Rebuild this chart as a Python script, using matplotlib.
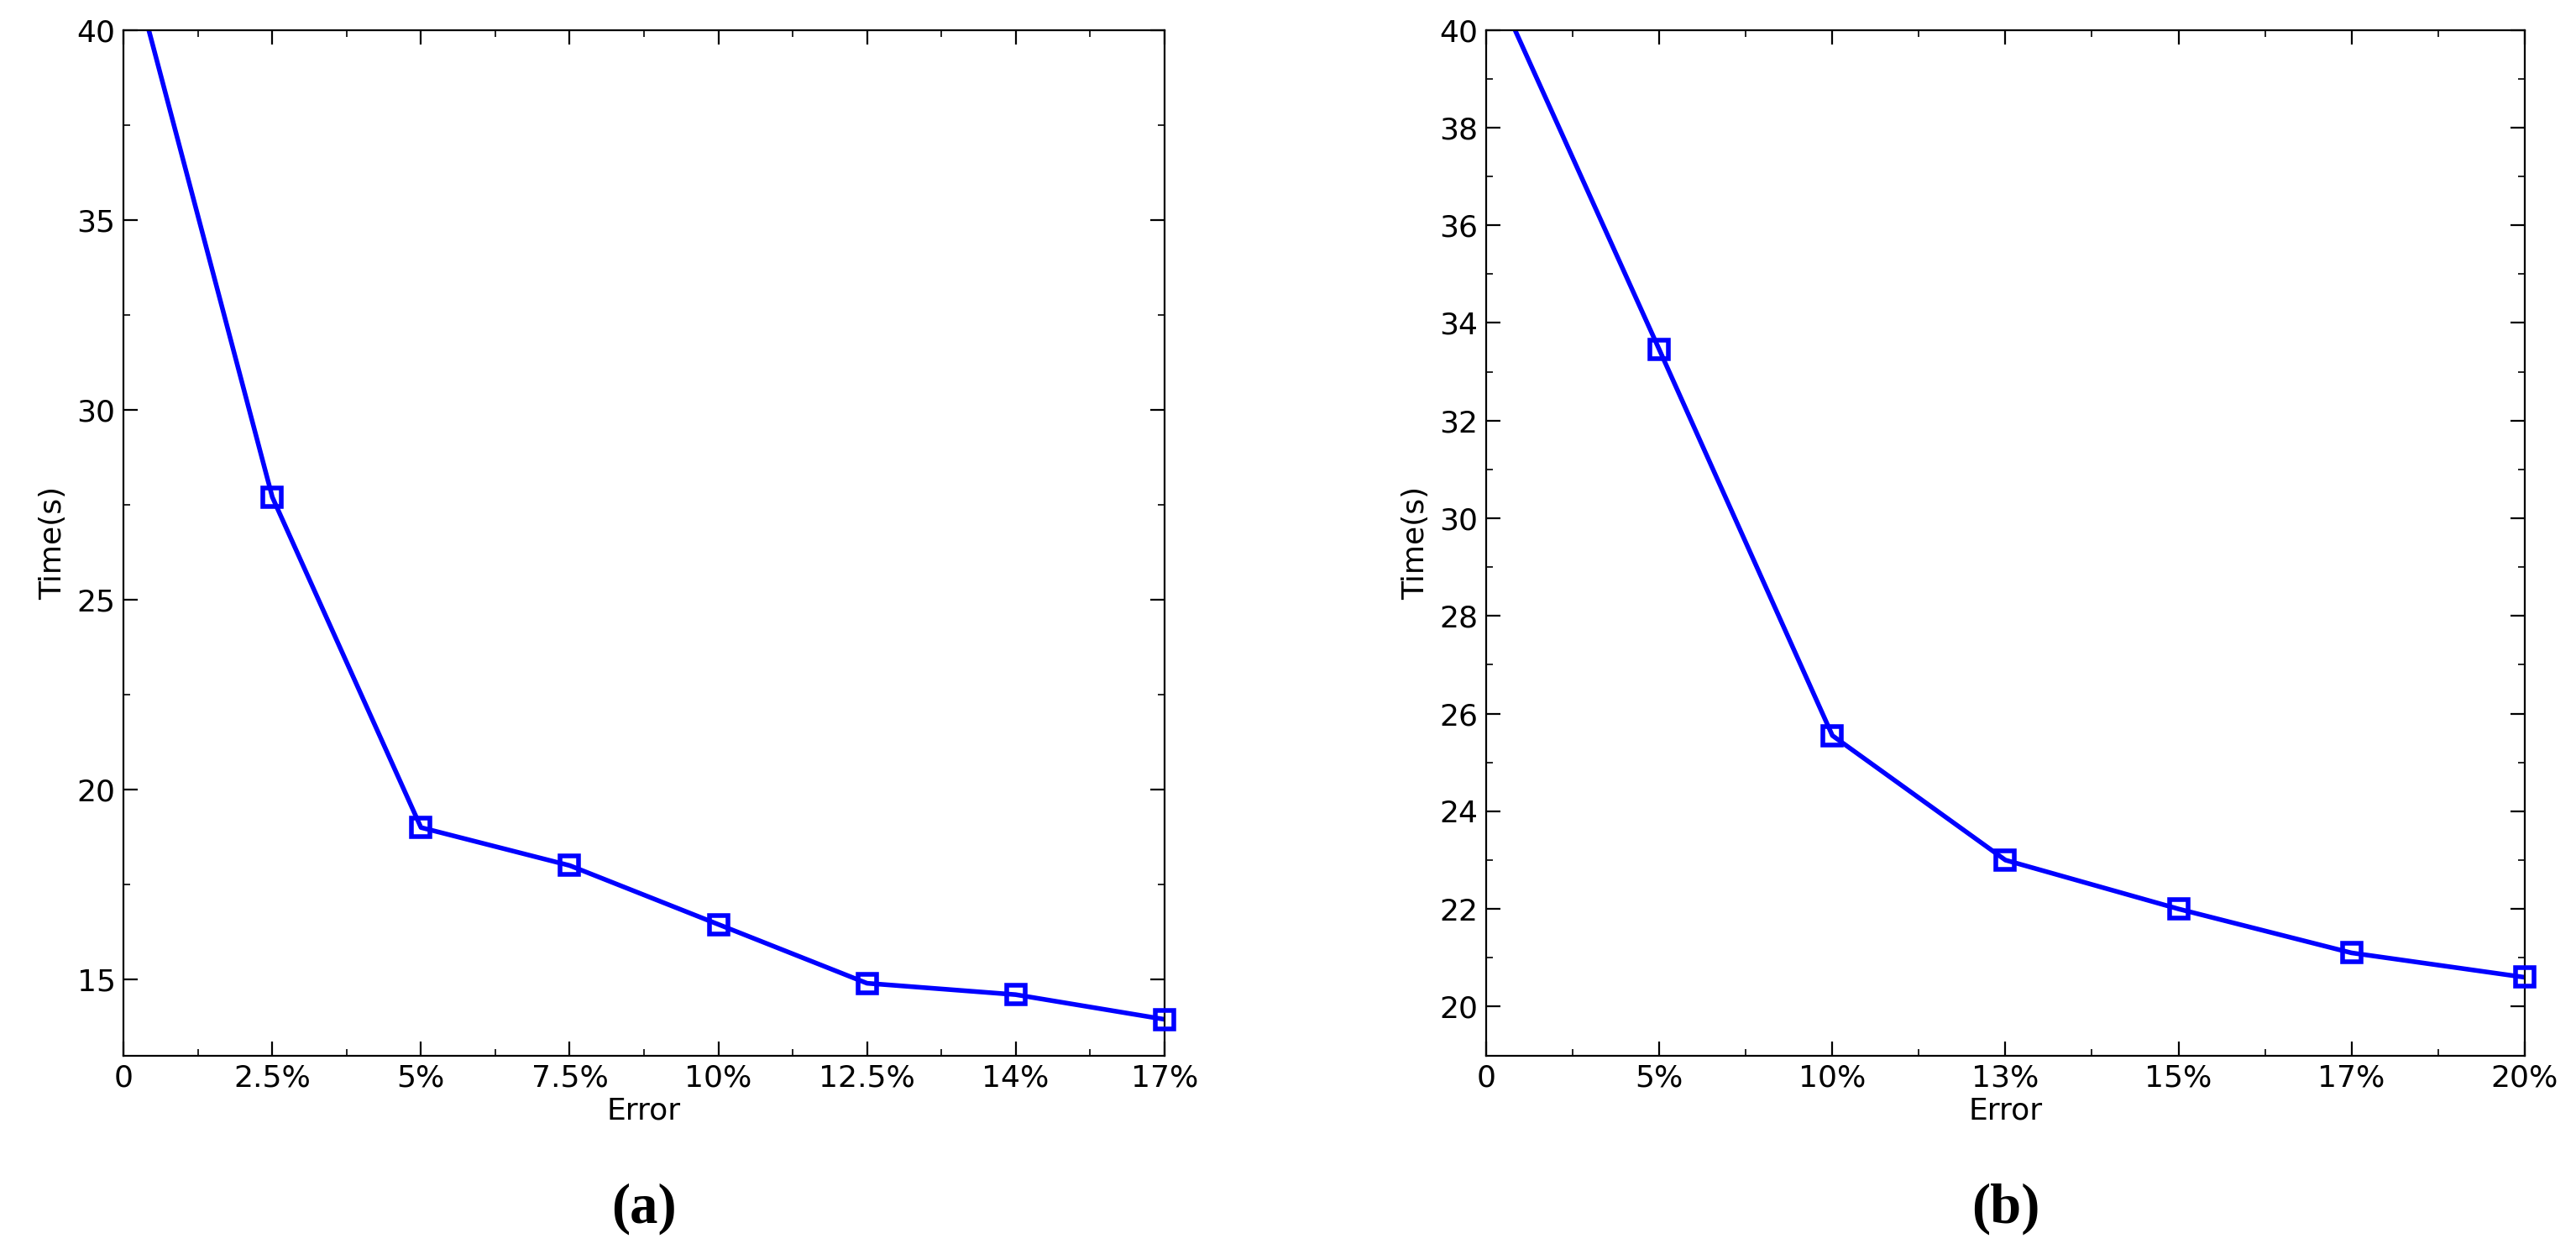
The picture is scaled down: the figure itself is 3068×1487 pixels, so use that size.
import matplotlib.pyplot as plt
from matplotlib.ticker import MultipleLocator

# panel (a)
labels_a = ['0', '2.5%', '5%', '7.5%', '10%', '12.5%', '14%', '17%']
time_a = [42.5, 27.7, 19.0, 18.0, 16.45, 14.9, 14.6, 13.95]

# panel (b)
labels_b = ['0', '5%', '10%', '13%', '15%', '17%', '20%']
time_b = [41.3, 33.45, 25.55, 23.0, 22.0, 21.1, 20.6]

fig = plt.figure(figsize=(15.34, 7.435), dpi=200)
ax1 = fig.add_axes([0.048, 0.155, 0.404, 0.821])
ax2 = fig.add_axes([0.577, 0.155, 0.403, 0.821])


def draw(ax, labels, vals, ylim, ystep, tag):
    xs = list(range(len(labels)))
    ax.plot(xs, vals, color='#0000ff', lw=2)
    # markers for the visible points, not clipped at the axes edge
    ax.plot(xs[1:], vals[1:], ls='none', marker='s', markersize=8,
            markerfacecolor='none', markeredgecolor='#0000ff',
            markeredgewidth=2, clip_on=False, zorder=5)
    ax.set_xlim(0, len(labels) - 1)
    ax.set_ylim(*ylim)
    ax.set_xticks(xs)
    ax.set_xticklabels(labels)
    ax.yaxis.set_major_locator(MultipleLocator(ystep))
    ax.yaxis.set_minor_locator(MultipleLocator(ystep / 2))
    ax.xaxis.set_minor_locator(MultipleLocator(0.5))
    ax.tick_params(which='both', direction='in', top=True, right=True, labelsize=13)
    ax.tick_params(which='major', length=6)
    ax.tick_params(which='minor', length=3)
    ax.set_xlabel('Error', fontsize=13, labelpad=2)
    ax.set_ylabel('Time(s)', fontsize=13, labelpad=4)
    ax.text(0.5, -0.15, tag, transform=ax.transAxes, ha='center', va='center',
            fontsize=24, fontweight='bold', family='Liberation Serif')


draw(ax1, labels_a, time_a, (13, 40), 5, '(a)')
draw(ax2, labels_b, time_b, (19, 40), 2, '(b)')

fig.savefig('out.png', dpi=200)
